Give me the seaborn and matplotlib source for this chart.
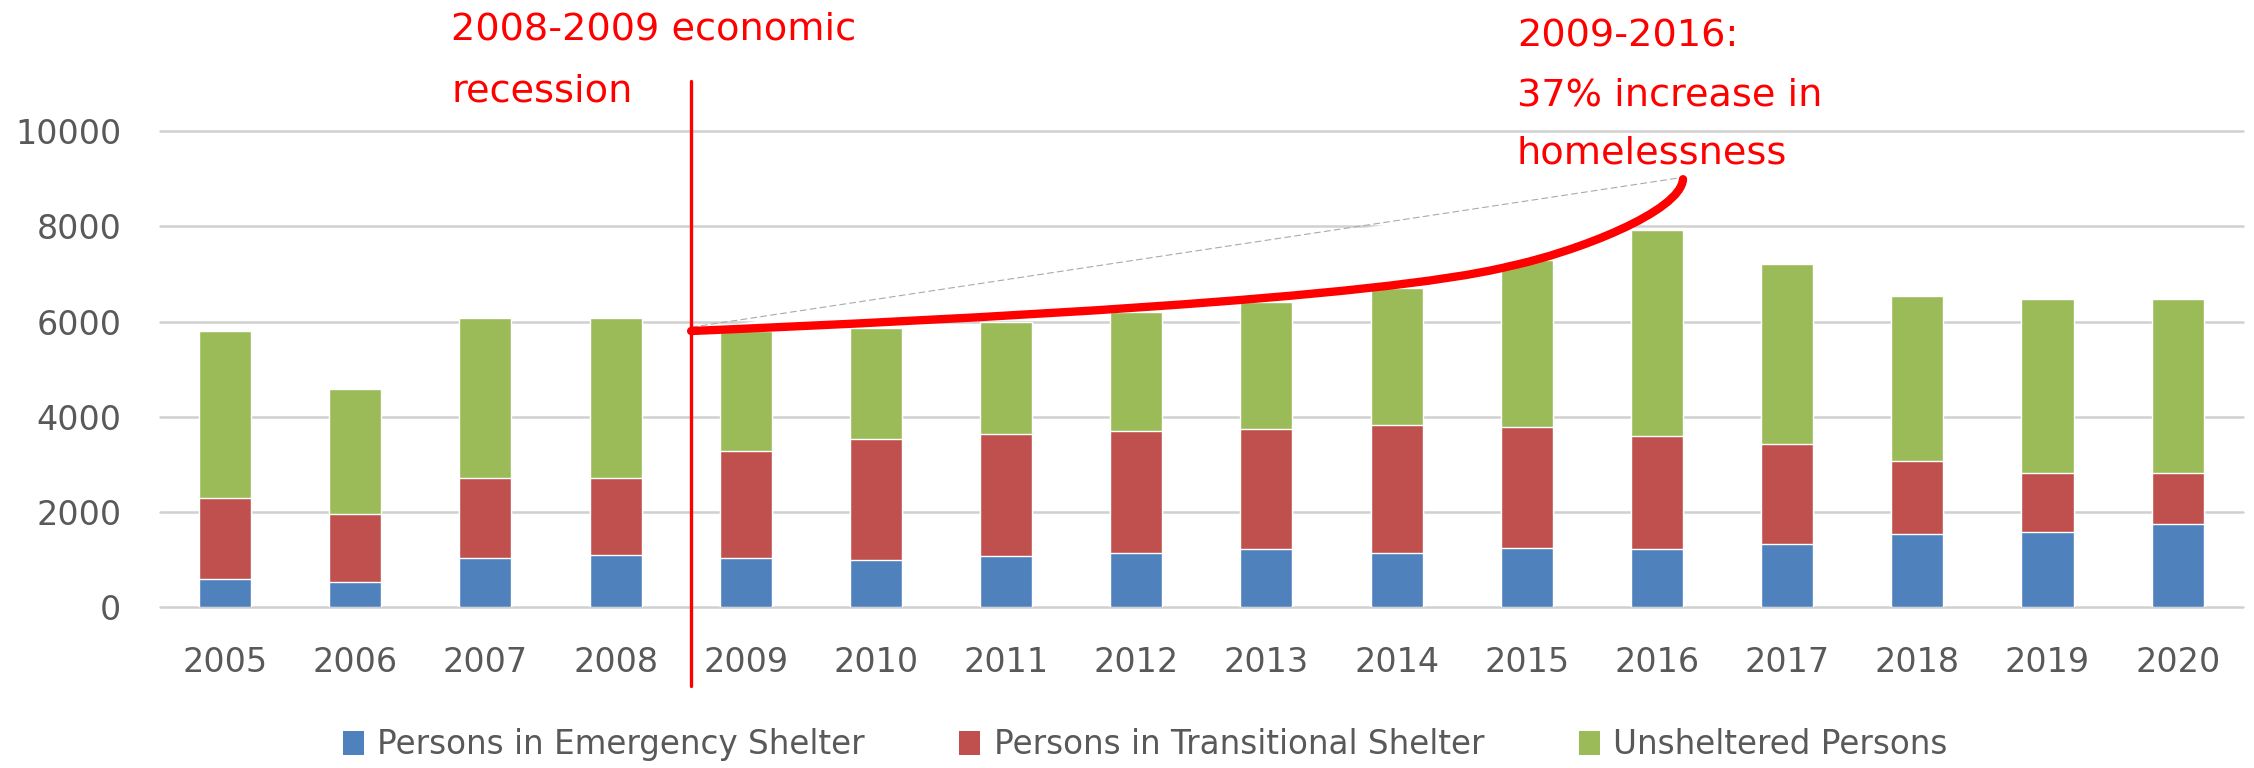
import numpy as np
import pandas as pd
import matplotlib.pyplot as plt
import seaborn as sns
from matplotlib.path import Path
from matplotlib.patches import PathPatch, Patch

years = [str(y) for y in range(2005, 2021)]
# values (stack boundaries)
emergency = [600, 525, 1035, 1100, 1035, 1000, 1065, 1140, 1215, 1140, 1250, 1215, 1320, 1530, 1570, 1750]
transitional = [1690, 1440, 1680, 1615, 2240, 2540, 2580, 2570, 2535, 2680, 2540, 2385, 2110, 1530, 1250, 1070]
unsheltered = [3500, 2610, 3360, 3360, 2515, 2325, 2355, 2490, 2650, 2880, 3510, 4325, 3785, 3470, 3645, 3645]

labels = ['Persons in Emergency Shelter', 'Persons in Transitional Shelter', 'Unsheltered Persons']
colors = ['#4F81BD', '#C0504D', '#9BBB59']

df = pd.DataFrame({'year': years, 'es': emergency, 'ts': transitional, 'un': unsheltered})
df['es_ts'] = df['es'] + df['ts']
df['total'] = df['es_ts'] + df['un']

sns.set_theme(style='white')
plt.rcParams['font.family'] = ['DejaVu Sans']
gray = '#595959'
red = '#FF0000'

fig = plt.figure(figsize=(22.54, 7.68), dpi=100)
ax = fig.add_axes([0.071, 0.2095, 0.924, 0.6198])

# stacked bars drawn as overlapping cumulative totals
sns.barplot(data=df, x='year', y='total', color=colors[2], saturation=1, width=0.4, ax=ax, zorder=2)
sns.barplot(data=df, x='year', y='es_ts', color=colors[1], saturation=1, width=0.4, ax=ax, zorder=2)
sns.barplot(data=df, x='year', y='es', color=colors[0], saturation=1, width=0.4, ax=ax, zorder=2)

ax.set_ylim(0, 10000)
ax.set_xlim(-0.5, 15.5)
ax.set_yticks(range(0, 10001, 2000))
ax.set_xlabel('')
ax.set_ylabel('')
ax.yaxis.grid(True, color='#D0D0D0', linewidth=1.8)
for gl in ax.get_ygridlines():
    gl.set_clip_on(False)
ax.set_axisbelow(True)
for s in ax.spines.values():
    s.set_visible(False)
ax.tick_params(axis='y', length=0, pad=28, labelsize=24, labelcolor=gray)
ax.tick_params(axis='x', length=0, pad=28, labelsize=24, labelcolor=gray)

# recession marker
ax.plot([3.58, 3.58], [-1650, 11050], color=red, lw=2.4, clip_on=False, zorder=5)

# bracket-like curve over 2009-2016
p0, p1, p2, p3 = (3.58, 5800), (5.68, 6046), (8.87, 6480), (9.87, 7163)
q1, q2, q3 = (10.37, 7455), (11.18, 8300), (11.20, 8989)
verts = [p0, p1, p2, p3, q1, q2, q3]
codes = [Path.MOVETO] + [Path.CURVE4] * 6
fill = PathPatch(Path(verts + [p0, p0], codes + [Path.LINETO, Path.CLOSEPOLY]),
                 facecolor='white', edgecolor='none', zorder=3, clip_on=False)
ax.add_patch(fill)
ax.plot([p0[0], q3[0]], [p0[1] + 80, q3[1] + 40], color='#AAAAAA', lw=0.8,
        ls=(0, (6, 3)), zorder=4, clip_on=False)
ax.add_patch(PathPatch(Path(verts, codes), facecolor='none', edgecolor=red, lw=6,
                       capstyle='round', zorder=6, clip_on=False))

# annotations
tkw = dict(color=red, fontsize=27.5, va='baseline', ha='left', clip_on=False, zorder=7)
ax.text(1.737, 11927, '2008-2009 economic', **tkw)
ax.text(1.737, 10628, 'recession', **tkw)
ax.text(9.923, 11783, '2009-2016:', **tkw)
ax.text(9.923, 10542, '37% increase in', **tkw)
ax.text(9.923, 9324, 'homelessness', **tkw)

handles = [Patch(facecolor=c, edgecolor='none') for c in colors]
fig.legend(handles, labels, loc='center', bbox_to_anchor=(0.508, 0.03), ncol=3,
           frameon=False, fontsize=23.5, labelcolor=gray, handlelength=0.65,
           handleheight=0.75, handletextpad=0.4, columnspacing=2.9)

fig.savefig('out.png', dpi=100)
